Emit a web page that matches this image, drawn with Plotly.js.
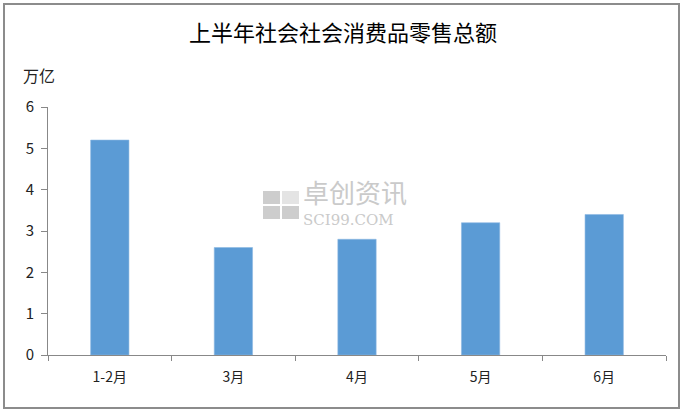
<!DOCTYPE html>
<html>
<head>
<meta charset="utf-8">
<script src="https://cdn.plot.ly/plotly-3.0.1.min.js"></script>
<style>
html,body{margin:0;padding:0;background:#fff;}
#wrap{position:relative;width:686px;height:412px;}
#chart{width:686px;height:412px;}
#frame{position:absolute;left:3px;top:3px;width:673px;height:402px;border:2px solid #8c8c8c;pointer-events:none;}
</style>
</head>
<body>
<div id="wrap"><div id="chart"></div><div id="frame"></div></div>
<script>
const categories = ['1-2月', '3月', '4月', '5月', '6月'];
const values = [5.2, 2.6, 2.8, 3.2, 3.4];
const yTicks = [0, 1, 2, 3, 4, 5, 6];
const titleText = '上半年社会社会消费品零售总额';
const unitText = '万亿';
const watermarkCn = '卓创资讯';
const watermarkEn = 'SCI99.COM';

const font = 'Noto Sans CJK SC, Noto Sans, sans-serif';

const trace = {
  type: 'bar',
  x: categories,
  y: values,
  marker: {color: '#5B9BD5', line: {color: '#8DB8E3', width: 0.6}},
  hoverinfo: 'x+y'
};

// plot area in pixels: x 48..666, y 107..355
const px = v => (v - 48) / 618;
const py = v => (355 - v) / 248;

const wmSquares = [];
const sq = [[0,0],[1,0],[0,1],[1,1]];
sq.forEach(([i,j]) => {
  const x0 = 263 + i*19, y0 = 191 + j*15;
  wmSquares.push({type:'rect', xref:'paper', yref:'paper', layer:'below',
    x0: px(x0), x1: px(x0 + 17), y0: py(y0 + 13), y1: py(y0),
    fillcolor: (i===1 && j===0) ? '#e4e4e4' : '#cdcdcd', line:{width:0}});
});

const layout = {
  width: 686, height: 412,
  margin: {l: 48, r: 20, t: 107, b: 57},
  paper_bgcolor: '#fff', plot_bgcolor: '#fff',
  showlegend: false,
  bargap: 0.69,
  title: {text: titleText, x: 0.5, xanchor: 'center', y: 1 - 33/412, yanchor: 'middle', yref: 'container',
    font: {family: font, size: 22, color: '#000'}},
  xaxis: {
    type: 'category', tickson: 'boundaries', ticks: 'outside', ticklen: 5, tickcolor: '#888',
    showline: true, linecolor: '#888', linewidth: 1, showgrid: false, ticklabelstandoff: 9,
    tickfont: {family: font, size: 14, color: '#222'}, fixedrange: true
  },
  yaxis: {
    range: [0, 6], tickvals: yTicks, ticks: 'outside', ticklen: 6, tickcolor: '#888',
    showline: true, linecolor: '#888', linewidth: 1, showgrid: false, zeroline: false, ticklabelstandoff: 4,
    tickfont: {family: font, size: 15, color: '#222'}, fixedrange: true
  },
  shapes: wmSquares,
  annotations: [
    {text: unitText, xref: 'paper', yref: 'paper', x: px(21), y: py(75),
      xanchor: 'left', yanchor: 'middle', showarrow: false, font: {family: font, size: 16, color: '#222'}},
    {text: watermarkCn, xref: 'paper', yref: 'paper', x: px(301), y: py(212), xanchor: 'left', yanchor: 'bottom',
      showarrow: false, font: {family: font, size: 26, color: '#cacaca'}},
    {text: watermarkEn, xref: 'paper', yref: 'paper', x: px(301), y: py(209), xanchor: 'left', yanchor: 'top',
      showarrow: false, font: {family: 'DejaVu Serif, serif', size: 15, color: '#cacaca'}}
  ]
};

Plotly.newPlot('chart', [trace], layout, {displayModeBar: false, staticPlot: true});
</script>
</body>
</html>
